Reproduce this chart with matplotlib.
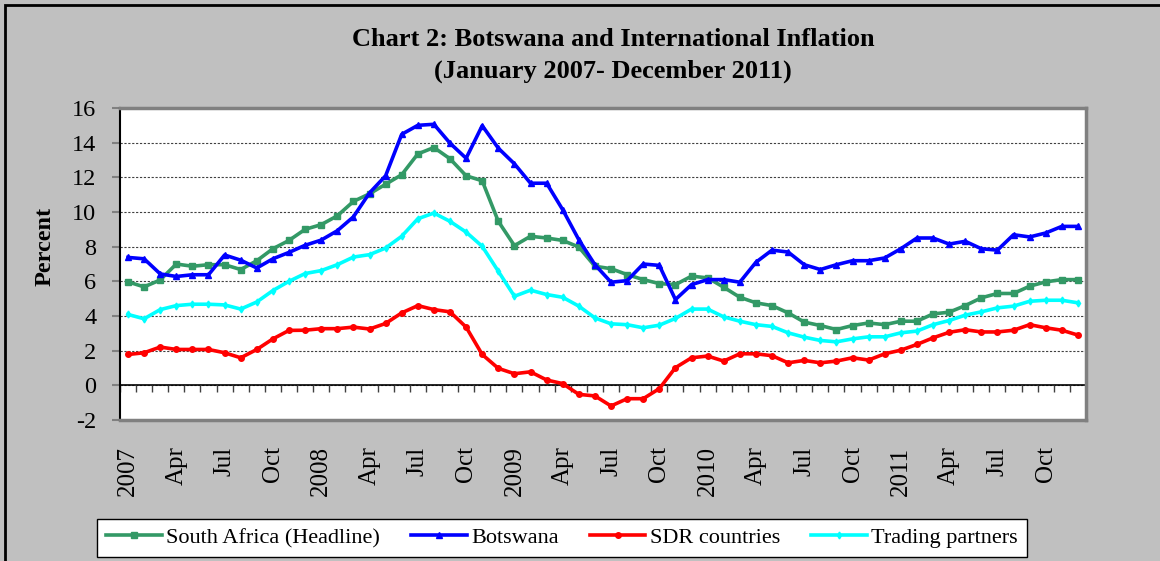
import numpy as np
import matplotlib
matplotlib.use("Agg")
import matplotlib.pyplot as plt
from matplotlib.patches import Rectangle

plt.rcParams['font.family'] = ['Liberation Serif', 'DejaVu Serif']

# 60 mois, janvier 2007 - decembre 2011
mois = ["Jan", "Feb", "Mar", "Apr", "May", "Jun", "Jul", "Aug", "Sep", "Oct", "Nov", "Dec"]
etiquettes = []
for annee in range(2007, 2012):
    for m in mois:
        etiquettes.append(str(annee) if m == "Jan" else m)

south_africa = [5.97, 5.68, 6.08, 7.0, 6.87, 6.96, 6.96, 6.68, 7.19, 7.88, 8.36, 9.0,
                9.27, 9.78, 10.61, 11.05, 11.6, 12.15, 13.35, 13.72, 13.07, 12.09, 11.8, 9.46,
                8.06, 8.6, 8.5, 8.36, 7.98, 6.87, 6.73, 6.39, 6.1, 5.87, 5.81, 6.3,
                6.2, 5.66, 5.08, 4.76, 4.6, 4.18, 3.65, 3.45, 3.22, 3.45, 3.6, 3.5,
                3.7, 3.7, 4.12, 4.22, 4.6, 5.05, 5.3, 5.3, 5.72, 5.97, 6.1, 6.1]
botswana = [7.38, 7.3, 6.43, 6.28, 6.38, 6.38, 7.52, 7.22, 6.77, 7.3, 7.67, 8.08,
            8.38, 8.92, 9.72, 11.1, 12.09, 14.48, 15.0, 15.06, 13.97, 13.1, 14.98, 13.68,
            12.78, 11.66, 11.66, 10.13, 8.4, 6.96, 5.95, 6.04, 7.0, 6.92, 4.95, 5.81,
            6.1, 6.1, 5.95, 7.1, 7.8, 7.69, 6.96, 6.68, 6.96, 7.19, 7.19, 7.35,
            7.88, 8.5, 8.5, 8.15, 8.31, 7.88, 7.8, 8.69, 8.56, 8.79, 9.17, 9.17]
sdr = [1.78, 1.88, 2.21, 2.07, 2.07, 2.07, 1.88, 1.59, 2.07, 2.68, 3.17, 3.18,
       3.27, 3.27, 3.36, 3.25, 3.57, 4.18, 4.6, 4.37, 4.24, 3.36, 1.78, 0.98,
       0.67, 0.78, 0.31, 0.1, -0.52, -0.61, -1.19, -0.77, -0.77, -0.19, 1.02, 1.59,
       1.69, 1.4, 1.82, 1.82, 1.71, 1.3, 1.44, 1.3, 1.4, 1.59, 1.46, 1.82,
       2.03, 2.36, 2.74, 3.06, 3.21, 3.08, 3.08, 3.18, 3.5, 3.32, 3.18, 2.9]
trading = [4.09, 3.84, 4.37, 4.6, 4.68, 4.68, 4.64, 4.4, 4.81, 5.47, 6.0, 6.45,
           6.62, 6.96, 7.4, 7.54, 7.92, 8.6, 9.61, 9.94, 9.46, 8.84, 8.02, 6.58,
           5.14, 5.49, 5.24, 5.08, 4.57, 3.89, 3.55, 3.5, 3.32, 3.47, 3.86, 4.4,
           4.4, 3.95, 3.7, 3.5, 3.4, 3.03, 2.78, 2.59, 2.51, 2.68, 2.8, 2.8,
           3.03, 3.13, 3.5, 3.74, 4.05, 4.24, 4.47, 4.57, 4.85, 4.91, 4.91, 4.76]

x = np.arange(len(etiquettes))

fig = plt.figure(figsize=(11.6, 5.61), dpi=100, facecolor='#c0c0c0')
ax = fig.add_axes([0.1034, 0.2513, 0.8328, 0.5562], facecolor='white')

# Courbes
ax.plot(x, south_africa, color='#339966', linewidth=2.6, marker='s', markersize=4.5, label='South Africa (Headline)')
ax.plot(x, botswana, color='#0000ff', linewidth=2.6, marker='^', markersize=4.5, label='Botswana')
ax.plot(x, sdr, color='#ff0000', linewidth=2.6, marker='o', markersize=4, label='SDR countries')
ax.plot(x, trading, color='#00ffff', linewidth=2.6, marker='d', markersize=3.5, label='Trading partners')

ax.set_xlim(-0.5, len(x) - 0.5)
ax.set_ylim(-2, 16)

# Axe horizontal a zero avec graduations entre les mois
ax.axhline(0, color='black', linewidth=1.2, zorder=1)
ax.vlines(np.arange(-0.5, len(x), 1), -0.4, 0, color='#404040', linewidth=1, zorder=1)

ax.set_yticks(np.arange(-2, 17, 2))
ax.set_yticklabels([str(v) for v in range(-2, 17, 2)])
ax.yaxis.grid(True, linestyle=(0, (2, 1.5)), color='#404040', linewidth=0.8)
ax.set_axisbelow(True)

ax.set_xticks(x[::3])
ax.set_xticklabels(etiquettes[::3], rotation=90, fontsize=18)
ax.tick_params(axis='x', length=0, pad=19)
ax.tick_params(axis='y', labelsize=17.5, length=6, color='#808080', width=1.5, pad=11)

for cote in ['top', 'right', 'bottom']:
    ax.spines[cote].set_color('#808080')
    ax.spines[cote].set_linewidth(2.5)
ax.spines['left'].set_color('black')
ax.spines['left'].set_linewidth(1.5)

# Titres
fig.text(613 / 1160, 1 - 39 / 561, "Chart 2: Botswana and International Inflation",
         ha='center', va='center', fontsize=19, fontweight='bold')
fig.text(613 / 1160, 1 - 71 / 561, "(January 2007- December 2011)",
         ha='center', va='center', fontsize=19, fontweight='bold')
fig.text(45 / 1160, 1 - 246 / 561, "Percent", rotation=90, ha='center', va='center',
         fontsize=17.5, fontweight='bold')

# Legende
leg = fig.legend(loc='center', bbox_to_anchor=(562 / 1160, 1 - 538 / 561), ncol=4,
                 fontsize=16, frameon=True, fancybox=False, edgecolor='black',
                 facecolor='white', framealpha=1, handlelength=2.5, columnspacing=1.4,
                 borderpad=0.4, handletextpad=0.2)
leg.get_frame().set_linewidth(1)

# Cadre noir du graphique
fig.patches.append(Rectangle((5 / 1160, -0.1), 1.2, 1 - 5 / 561 + 0.1, transform=fig.transFigure,
                             fill=False, edgecolor='black', linewidth=2))

fig.savefig("out.png", dpi=100, facecolor=fig.get_facecolor())
